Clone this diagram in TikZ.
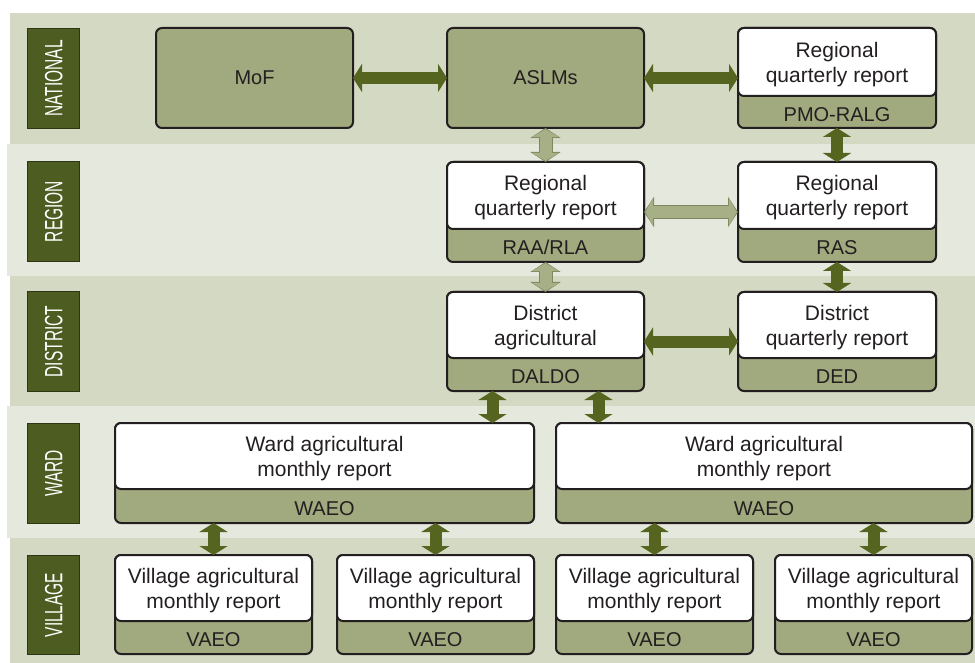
\documentclass[tikz,border=0pt]{standalone}
\usepackage{fontspec}
\setmainfont{Liberation Sans}
\newfontfamily\labfont[FakeStretch=0.62]{Liberation Sans}
\usetikzlibrary{arrows.meta}
\definecolor{bandD}{HTML}{D4D9C3}
\definecolor{bandL}{HTML}{E5E8DD}
\definecolor{boxgreen}{HTML}{A1A97E}
\definecolor{boxline}{HTML}{231F20}
\definecolor{labdark}{HTML}{4D5C20}
\definecolor{labline}{HTML}{2E3514}
\definecolor{arrowdark}{HTML}{55651F}
\definecolor{arrowlight}{HTML}{A7AF86}
\definecolor{arrowlightline}{HTML}{7E875F}
\definecolor{txt}{HTML}{231F20}
\tikzset{
 box/.style={draw=boxline, line width=2pt, rounded corners=6pt, fill=boxgreen, inner sep=0pt, outer sep=0pt},
 panel/.style={draw=boxline, line width=2pt, rounded corners=6pt, fill=white, inner sep=0pt, outer sep=0pt},
 maintext/.style={align=center, font=\fontsize{21}{25}\selectfont, text=txt, inner sep=0pt},
 subtext/.style={font=\fontsize{20}{22}\selectfont, text=txt, text height=14.3pt, text depth=0pt, inner sep=0pt},
 lab/.style={draw=labline, line width=1.5pt, fill=labdark, rotate=90, text=white, font=\labfont\fontsize{25}{25}\selectfont, inner sep=0pt, text height=17.9pt, text depth=0pt, minimum height=52pt},
 darrow/.style={color=arrowdark, line width=12pt, {Triangle[width=28pt,length=9pt]}-{Triangle[width=28pt,length=9pt]}},
 larrowout/.style={color=arrowlightline, line width=14pt, {Triangle[width=30pt,length=10pt]}-{Triangle[width=30pt,length=10pt]}},
 larrowin/.style={color=arrowlight, line width=12pt, shorten <=1.2pt, shorten >=1.2pt, {Triangle[width=27pt,length=8pt]}-{Triangle[width=27pt,length=8pt]}},
}
% name, x1, y1, x2, y2, ysplit, top text, bottom text
\newcommand\mkrepbox[8]{%
 \node[box, minimum width={#4-#2-2}, minimum height={#5-#3-2}] (#1) at ({(#2+#4)/2},{(#3+#5)/2}) {};
 \node[panel, minimum width={#4-#2-2}, minimum height={#6-#3-1}] (#1-p) at ({(#2+#4)/2},{(#3+1+#6)/2}) {};
 \node[maintext, yshift=-3pt] (#1-t) at ({(#2+#4)/2},{(#3+#6)/2}) {#7};
 \node[subtext, yshift=-1.5pt] (#1-s) at ({(#2+#4)/2},{(#6+#5)/2}) {#8};
}
\begin{document}
\begin{tikzpicture}[x=1pt,y=-1pt]
\useasboundingbox (0,0) rectangle (975,663);
\fill[white] (0,0) rectangle (975,663);
% bands
\fill[bandD] (10,13) rectangle (975,144);
\fill[bandL] (7,144) rectangle (975,276);
\fill[bandD] (10,276) rectangle (975,406);
\fill[bandL] (7,406) rectangle (975,538);
\fill[bandD] (10,538) rectangle (975,663);
% level labels
\node[lab, minimum width=100pt] (lnat) at (53.5,78.5) {NATIONAL};
\node[lab, minimum width=100pt] (lreg) at (53.5,211.5) {REGION};
\node[lab, minimum width=100pt] (ldis) at (53.5,341.5) {DISTRICT};
\node[lab, minimum width=100pt] (lward) at (53.5,473.5) {WARD};
\node[lab, minimum width=99pt] (lvil) at (53.5,605) {VILLAGE};
% national
\node[box, minimum width=197pt, minimum height=100pt, font=\fontsize{20}{24}\selectfont, text=txt] (mof) at (254.5,78) {MoF};
\node[box, minimum width=197pt, minimum height=100pt, font=\fontsize{20}{24}\selectfont, text=txt] (aslm) at (545.5,78) {ASLMs};
\mkrepbox{pmo}{737}{27}{937}{129}{96}{Regional\\quarterly report}{PMO-RALG}
% region
\mkrepbox{raa}{446}{161}{645}{263}{229}{Regional\\quarterly report}{RAA/RLA}
\mkrepbox{ras}{737}{161}{937}{263}{229}{Regional\\quarterly report}{RAS}
% district
\mkrepbox{daldo}{446}{291}{645}{392}{358}{District\\agricultural}{DALDO}
\mkrepbox{ded}{737}{291}{937}{392}{358}{District\\quarterly report}{DED}
% ward
\mkrepbox{ward1}{114}{422}{535}{524}{489}{Ward agricultural\\monthly report}{WAEO}
\mkrepbox{ward2}{555}{422}{973}{524}{489}{Ward agricultural\\monthly report}{WAEO}
% village
\mkrepbox{v1}{114}{554}{313}{655}{621}{Village agricultural\\monthly report}{VAEO}
\mkrepbox{v2}{336}{554}{535}{655}{621}{Village agricultural\\monthly report}{VAEO}
\mkrepbox{v3}{555}{554}{754}{655}{621}{Village agricultural\\monthly report}{VAEO}
\mkrepbox{v4}{774}{554}{973}{655}{621}{Village agricultural\\monthly report}{VAEO}
% connectors
\draw[darrow] (mof.east) -- (aslm.west);
\draw[darrow] (aslm.east) -- (pmo.west);
\draw[larrowout] (aslm.south) -- (raa.north);
\draw[larrowin] (aslm.south) -- (raa.north);
\draw[darrow] (pmo.south) -- (ras.north);
\draw[larrowout] (raa.east) -- (ras.west);
\draw[larrowin] (raa.east) -- (ras.west);
\draw[larrowout] (raa.south) -- (daldo.north);
\draw[larrowin] (raa.south) -- (daldo.north);
\draw[darrow] (ras.south) -- (ded.north);
\draw[darrow] (daldo.east) -- (ded.west);
\coordinate (dw1) at ([xshift=-53pt]daldo.south);
\coordinate (dw2) at ([xshift=53pt]daldo.south);
\draw[darrow] (dw1) -- (dw1 |- ward1.north);
\draw[darrow] (dw2) -- (dw2 |- ward2.north);
\draw[darrow] (v1.north |- ward1.south) -- (v1.north);
\draw[darrow] (v2.north |- ward1.south) -- (v2.north);
\draw[darrow] (v3.north |- ward2.south) -- (v3.north);
\draw[darrow] (v4.north |- ward2.south) -- (v4.north);
\end{tikzpicture}
\end{document}
